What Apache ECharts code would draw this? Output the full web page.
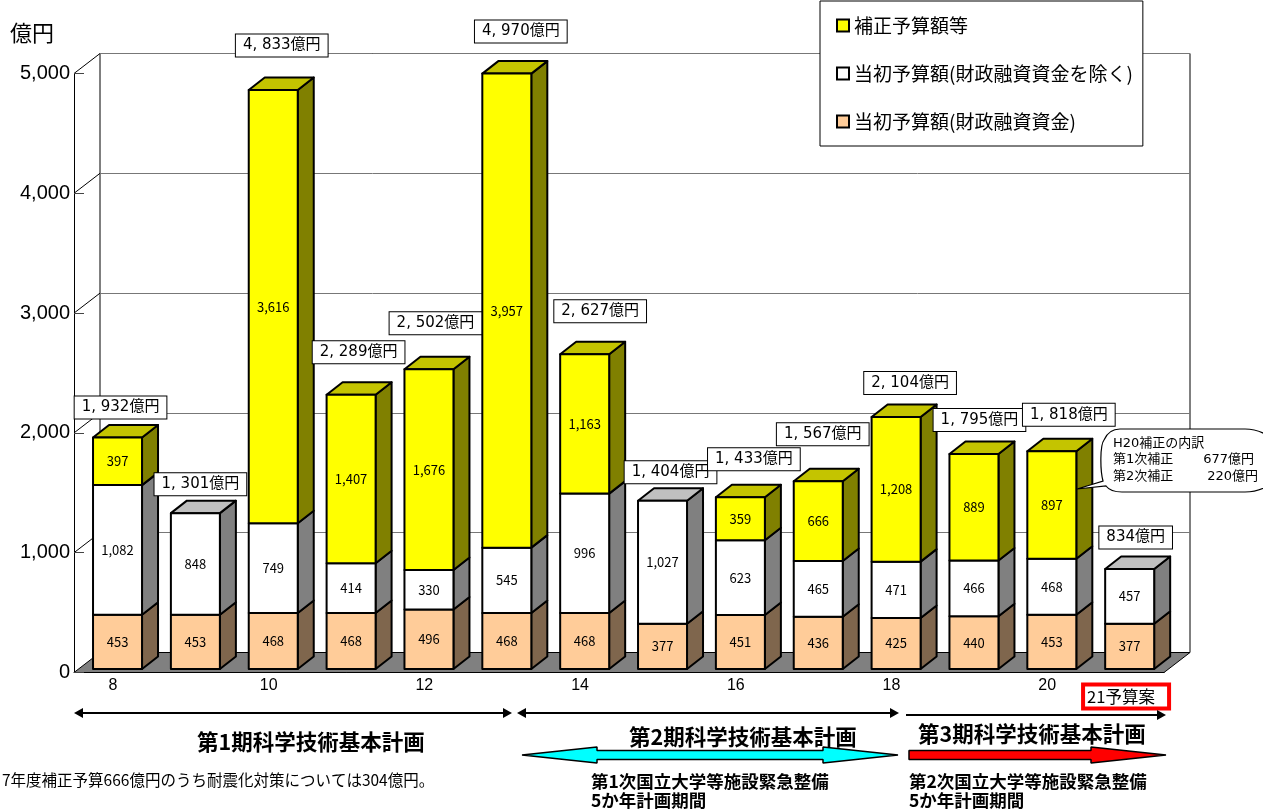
<!DOCTYPE html>
<html lang="ja">
<head>
<meta charset="utf-8">
<title>国立大学等施設整備費予算の推移</title>
<style>html,body{margin:0;padding:0;background:#fff}#chart{width:1263px;height:810px}</style>
<script src="https://cdn.jsdelivr.net/npm/echarts@6/dist/echarts.min.js"></script>
</head>
<body>
<div id="chart"></div>
<script>
// 年度
const categories = ['8','9','10','11','12','13','14','15','16','17','18','19','20','21予算案'];
// 億円単位の内訳
const loanFunded    = [453,453,468,468,496,468,468,377,451,436,425,440,453,377];
const initialBudget = [1082,848,749,414,330,545,996,1027,623,465,471,466,468,457];
const supplementary = [397,null,3616,1407,1676,3957,1163,null,359,666,1208,889,897,null];
const totalLabels = ['1, 932億円','1, 301億円','4, 833億円','2, 289億円','2, 502億円','4, 970億円','2, 627億円',
  '1, 404億円','1, 433億円','1, 567億円','2, 104億円','1, 795億円','1, 818億円','834億円'];
const valueTicks = [0,1000,2000,3000,4000,5000];

const seriesNames = ['補正予算額等','当初予算額(財政融資資金を除く)','当初予算額(財政融資資金)'];

// 合計ラベルを棒の上端から離す量
const totalLabelDx = [3,5,8.5,7.5,6.5,14,15.5,8,13.5,4.5,14,5.5,17,6];
const totalLabelDy = [-30,-29,-44.5,-42.5,-46,-42,-43,-28.5,-38,-47,-34,-34,-36.5,-31.5];

const JP = '"Noto Sans CJK JP"';
const wallDx = 26, wallDy = -20;      // 奥行き: 壁
const barDx = 16, barDy = -12.5;      // 奥行き: 棒
const barShiftX = 4.6, barShiftY = -3.5, barHalf = 24.5;

const palette = {
  supplementary: {front:'#FFFF00', side:'#808000', top:'#C4C400'},
  initial:       {front:'#FFFFFF', side:'#808080', top:'#C0C0C0'},
  loan:          {front:'#FFCC99', side:'#7F664D', top:'#BF9973'}
};

const total = i => loanFunded[i] + initialBudget[i] + (supplementary[i] || 0);

// 3D風の積み上げ棒を1区間描く
function barSegment(colors) {
  return function (params, api) {
    const i = api.value(0), from = api.value(1), to = api.value(2);
    const isTop = to === total(i);
    const b = api.coord([i, from]), t = api.coord([i, to]);
    const x0 = b[0] + barShiftX - barHalf, x1 = b[0] + barShiftX + barHalf;
    const yb = b[1] + barShiftY, yt = t[1] + barShiftY;
    const line = {stroke:'#000', lineWidth:2, lineJoin:'round'};
    const children = [
      {type:'polygon', shape:{points:[[x1,yb],[x1+barDx,yb+barDy],[x1+barDx,yt+barDy],[x1,yt]]},
        style:Object.assign({fill:colors.side}, line)}
    ];
    if (isTop) {
      children.push({type:'polygon', shape:{points:[[x0,yt],[x0+barDx,yt+barDy],[x1+barDx,yt+barDy],[x1,yt]]},
        style:Object.assign({fill:colors.top}, line)});
    }
    children.push({type:'rect', shape:{x:x0,y:yt,width:x1-x0,height:yb-yt},
      style:Object.assign({fill:colors.front}, line)});
    children.push({type:'text', style:{
      text:(to-from).toLocaleString('en-US'), x:(x0+x1)/2, y:(yb+yt)/2,
      align:'center', verticalAlign:'middle', fill:'#000', font:'13px ' + JP}});
    return {type:'group', children};
  };
}

function segmentData(lower, values) {
  const rows = [];
  values.forEach((v, i) => { if (v != null) rows.push([i, lower[i], lower[i] + v]); });
  return rows;
}

const zeros = categories.map(() => 0);
const initialFloor = loanFunded;
const supplementaryFloor = loanFunded.map((v, i) => v + initialBudget[i]);

function thinArrow(x0, x1, y, both) {
  const h = 5, l = 9, c = [];
  c.push({type:'line', shape:{x1:x0+(both?4:0), y1:y, x2:x1-4, y2:y}, style:{stroke:'#000', lineWidth:2}});
  c.push({type:'polygon', shape:{points:[[x1,y],[x1-l,y-h],[x1-l,y+h]]}, style:{fill:'#000'}});
  if (both) c.push({type:'polygon', shape:{points:[[x0,y],[x0+l,y-h],[x0+l,y+h]]}, style:{fill:'#000'}});
  return c;
}

function blockArrow(x0, x1, y, fill, both) {
  const s = 4.5, h = 8, l = 75, p = [];
  if (both) { p.push([x0,y],[x0+l,y-h],[x0+l,y-s]); } else { p.push([x0,y-s]); }
  p.push([x1-l,y-s],[x1-l,y-h],[x1,y],[x1-l,y+h],[x1-l,y+s]);
  if (both) { p.push([x0+l,y+s],[x0+l,y+h]); } else { p.push([x0,y+s]); }
  return {type:'polygon', shape:{points:p}, style:{fill, stroke:'#000', lineWidth:1.5, lineJoin:'bevel'}};
}

function caption(text, x, y, font, extra) {
  return {type:'text', style:Object.assign({text, x, y, align:'left', verticalAlign:'middle', fill:'#000', font}, extra)};
}

const calloutFont = '13px "DejaVu Sans", ' + JP;

const option = {
  animation:false,
  backgroundColor:'#fff',
  textStyle:{fontFamily:JP},
  legend:{
    data:seriesNames, orient:'vertical', left:820, top:1, z:10,
    padding:[15,10,15,16], itemGap:29, itemWidth:12, itemHeight:12,
    backgroundColor:'#fff', borderColor:'#000', borderWidth:1, selectedMode:false,
    icon:'rect', textStyle:{fontFamily:JP, fontSize:19, color:'#000'},
    itemStyle:{borderColor:'#000', borderWidth:2}
  },
  grid:[
    {left:74, top:73.5, width:1090, height:599, outerBoundsMode:'none'},
    {left:100, top:53.5, width:1090, height:599, outerBoundsMode:'none', show:true,
      backgroundColor:'#fff', borderColor:'#000', borderWidth:1, z:0}
  ],
  xAxis:[
    {type:'category', gridIndex:0, data:categories, z:2,
      axisLine:{lineStyle:{color:'#000', width:1}},
      axisTick:{inside:true, length:7, lineStyle:{color:'#000'}},
      axisLabel:{interval:i => i % 2 === 0 && i < 13, margin:5,
        fontFamily:'Liberation Sans', fontSize:16, color:'#000'}},
    {type:'category', gridIndex:1, data:categories, show:false}
  ],
  yAxis:[
    {type:'value', gridIndex:0, min:0, max:5000, interval:1000, z:2,
      name:'億円', nameLocation:'end', nameGap:30,
      nameTextStyle:{fontFamily:JP, fontSize:22, color:'#000', align:'right', padding:[0,20,0,0]},
      axisLine:{show:true, lineStyle:{color:'#000', width:1}},
      axisTick:{show:true, inside:true, length:10, lineStyle:{color:'#444'}},
      splitLine:{show:false},
      axisLabel:{margin:4, fontFamily:'Liberation Sans', fontSize:20, color:'#000',
        formatter:v => v.toLocaleString('en-US')}},
    {type:'value', gridIndex:1, min:0, max:5000, interval:1000, z:1,
      axisLine:{show:false}, axisTick:{show:false}, axisLabel:{show:false},
      splitLine:{show:true, lineStyle:{color:'#777', width:1}}}
  ],
  series:[
    // 床と左壁の斜線
    {type:'custom', name:'floor', z:1, silent:true, data:[0], encode:{x:0},
      renderItem(params, api) {
        const half = api.size([1,0])[0] / 2;
        const p0 = api.coord([0,0]), pn = api.coord([categories.length-1,0]);
        const l = p0[0]-half, r = pn[0]+half, y = p0[1];
        const children = [{type:'polygon',
          shape:{points:[[l,y],[l+wallDx,y+wallDy],[r+wallDx,y+wallDy],[r,y]]},
          style:{fill:'#808080', stroke:'#000', lineWidth:1}}];
        valueTicks.slice(1).forEach(v => {
          const py = api.coord([0,v])[1];
          children.push({type:'line', shape:{x1:l,y1:py,x2:l+wallDx,y2:py+wallDy}, style:{stroke:'#000', lineWidth:1}});
        });
        return {type:'group', children};
      }},
    {type:'custom', name:seriesNames[2], z:3, itemStyle:{color:palette.loan.front},
      data:segmentData(zeros, loanFunded), encode:{x:0, y:[1,2]}, renderItem:barSegment(palette.loan)},
    {type:'custom', name:seriesNames[1], z:3, itemStyle:{color:palette.initial.front},
      data:segmentData(initialFloor, initialBudget), encode:{x:0, y:[1,2]}, renderItem:barSegment(palette.initial)},
    {type:'custom', name:seriesNames[0], z:3, itemStyle:{color:palette.supplementary.front},
      data:segmentData(supplementaryFloor, supplementary), encode:{x:0, y:[1,2]}, renderItem:barSegment(palette.supplementary)},
    // 年度ごとの合計ラベル
    {type:'custom', name:'totals', z:5, silent:true,
      data:categories.map((c,i) => [i, total(i)]), encode:{x:0, y:1},
      renderItem(params, api) {
        const i = api.value(0), p = api.coord([i, api.value(1)]);
        return {type:'text', style:{
          text:totalLabels[i], x:p[0]+barShiftX+totalLabelDx[i], y:p[1]+barShiftY+totalLabelDy[i],
          align:'center', verticalAlign:'middle', fill:'#000',
          font:'15px "DejaVu Sans", ' + JP,
          backgroundColor:'#fff', borderColor:'#000', borderWidth:1, padding:[4,7,3,7]}};
      }},
    // 注記、計画期間の矢印、吹き出し
    {type:'custom', name:'notes', z:6, silent:true, data:[[13,0]], encode:{x:0, y:1},
      renderItem(params, api) {
        const p = api.coord([13,0]);
        const children = [
          {type:'rect', shape:{x:p[0]-42,y:684.5,width:86,height:24},
            style:{fill:'#fff', stroke:'#f00', lineWidth:4}},
          caption(categories[13], p[0]-38, 697, '16.5px ' + JP),
          ...thinArrow(74, 512, 713, true),
          ...thinArrow(517, 899, 713, true),
          ...thinArrow(906, 1166, 715, false),
          caption('第1期科学技術基本計画', 197, 742, 'bold 21.5px ' + JP),
          caption('第2期科学技術基本計画', 629, 737, 'bold 21.5px ' + JP),
          caption('第3期科学技術基本計画', 918, 734, 'bold 21.5px ' + JP),
          blockArrow(522, 898, 755, '#00FFFF', true),
          blockArrow(909, 1166, 755, '#FF0000', false),
          caption('7年度補正予算666億円のうち耐震化対策については304億円。', 2, 780, '15.5px ' + JP),
          caption('第1次国立大学等施設緊急整備', 591, 781, 'bold 17.5px ' + JP),
          caption('5か年計画期間', 591, 800, 'bold 17.5px ' + JP),
          caption('第2次国立大学等施設緊急整備', 909, 781, 'bold 17.5px ' + JP),
          caption('5か年計画期間', 909, 800, 'bold 17.5px ' + JP),
          {type:'path', shape:{pathData:'M1120 429 L1245 429 C1265 429 1285 445 1285 460 C1285 478 1265 492 1245 492 L1122 492 C1114 492 1109 490 1106 486 L1077 489 L1103 481 C1100 470 1100 445 1104 440 C1107 433 1113 429 1120 429 Z'},
            style:{fill:'#fff', stroke:'#000', lineWidth:1.2}},
          caption('H20補正の内訳', 1113, 444, calloutFont),
          caption('第1次補正', 1113, 460, calloutFont),
          caption('677億円', 1254, 460, calloutFont, {align:'right'}),
          caption('第2次補正', 1113, 477, calloutFont),
          caption('220億円', 1258, 477, calloutFont, {align:'right'})
        ];
        return {type:'group', children};
      }}
  ]
};

const chart = echarts.init(document.getElementById('chart'), null, {renderer:'canvas'});
chart.setOption(option);
</script>
</body>
</html>
